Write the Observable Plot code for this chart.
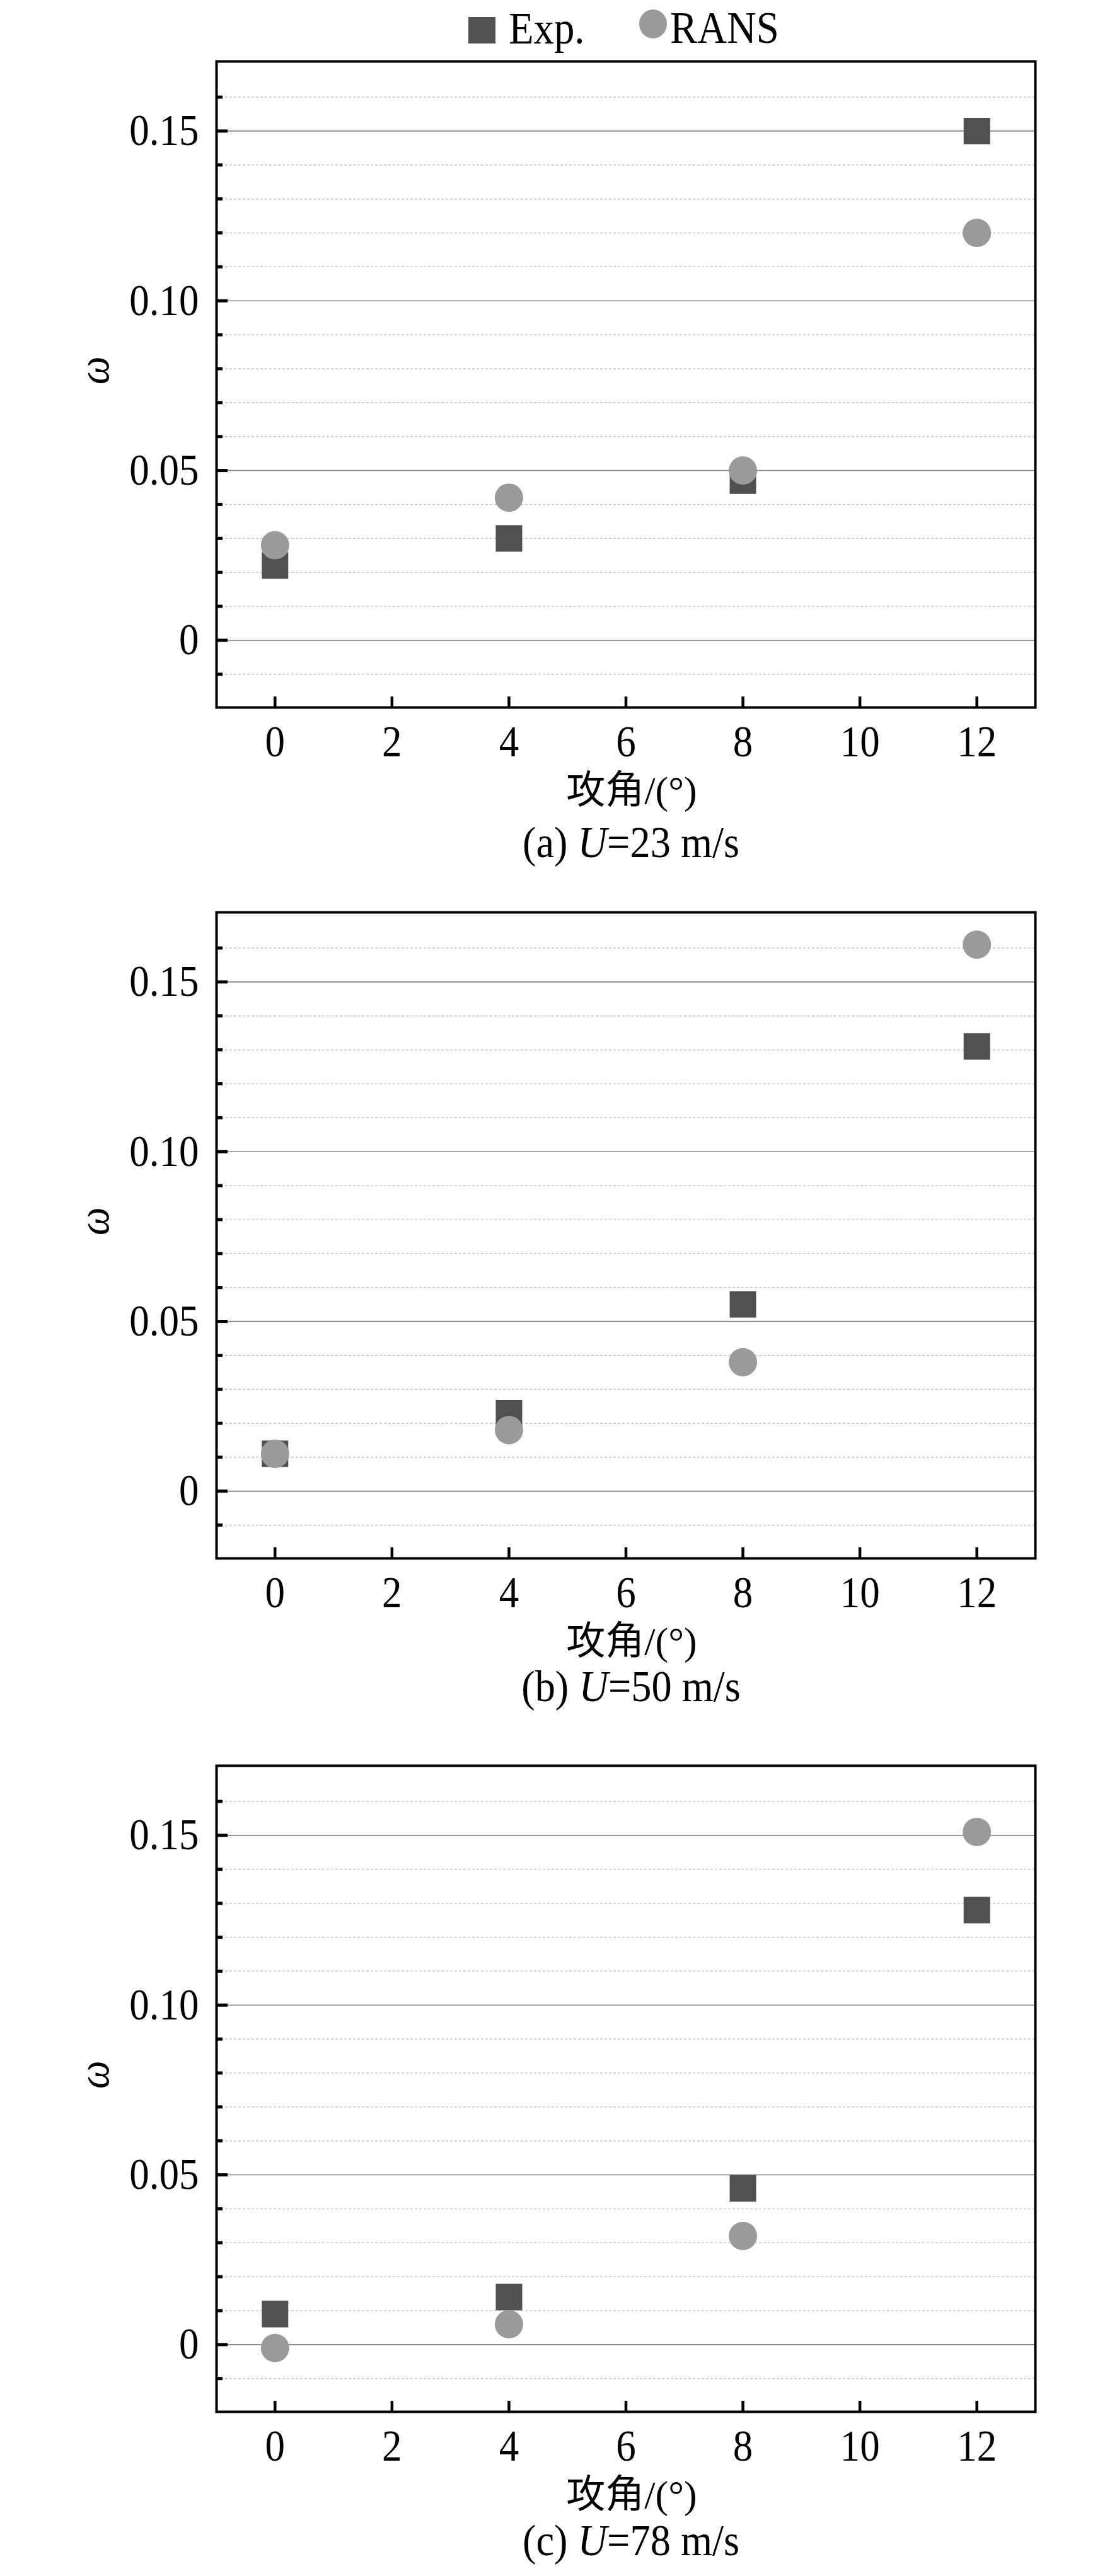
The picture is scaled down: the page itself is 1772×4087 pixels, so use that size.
<!DOCTYPE html>
<html>
<head>
<meta charset="utf-8">
<script src="https://cdn.jsdelivr.net/npm/d3@7"></script>
<script src="https://cdn.jsdelivr.net/npm/@observablehq/plot@0.6"></script>
<style>
  html, body { margin: 0; padding: 0; background: #fff; }
  #page { position: relative; width: 1772px; height: 4087px; background: #fff; overflow: hidden; }
  .panel { position: absolute; left: 0; }
  .panel svg { display: block; overflow: visible; }
  .caption { position: absolute; width: 1000px; text-align: center; font-family: "Liberation Serif", "Times New Roman", serif; font-size: 70px; line-height: 70px; color: #000; white-space: nowrap; transform: scaleX(0.92); transform-origin: 50% 50%; }
  .caption i { font-style: italic; }
</style>
</head>
<body>
<div id="page"></div>
<script>
// ---------- data ----------
const angles = [0, 4, 8, 12];
const expA  = [0.022, 0.030, 0.047, 0.150];
const ransA = [0.028, 0.042, 0.050, 0.120];
const expB  = [0.011, 0.023, 0.055, 0.131];
const ransB = [0.011, 0.018, 0.038, 0.161];
const expC  = [0.009, 0.014, 0.046, 0.128];
const ransC = [-0.001, 0.006, 0.032, 0.151];

const seriesNames = ["Exp.", "RANS"];
const captions = [["(a) ", "U", "=23 m/s"], ["(b) ", "U", "=50 m/s"], ["(c) ", "U", "=78 m/s"]];
const xLabel = "攻角/(°)";
const yLabel = "ω";

const xTicks = [0, 2, 4, 6, 8, 10, 12];
const yMajor = [0, 0.05, 0.10, 0.15];
const yMajorLabels = ["0", "0.05", "0.10", "0.15"];
const yMinor = [-0.01, 0.01, 0.02, 0.03, 0.04, 0.06, 0.07, 0.08, 0.09, 0.11, 0.12, 0.13, 0.14, 0.16];
const xDomain = [-1, 13];
const yDomain = [-0.0198, 0.1705];

// ---------- layout ----------
const W = 1772, ML = 343, MR = 130, MT = 20, PH = 1025, MB = 175;
const PW = W - ML - MR;
const frameTops = [97, 1447, 2801];
const captionTops = [1302, 2641, 3996];
const EXP_COLOR = "#505050", RANS_COLOR = "#9a9a9a";
const SERIF = "Liberation Serif, Times New Roman, serif";
const SX = 0.9; // horizontal condensing of the Latin text, as in the reference

function condense(svg, skip) {
  svg.querySelectorAll("text").forEach(t => {
    if (skip && t.textContent === skip) return;
    const tr = t.getAttribute("transform") || "";
    const x = +(t.getAttribute("x") || 0);
    t.setAttribute("transform", `${tr} translate(${x},0) scale(${SX},1) translate(${-x},0)`);
  });
}

const page = document.getElementById("page");

// legend (above first panel)
const NS = "http://www.w3.org/2000/svg";
const leg = document.createElementNS(NS, "svg");
leg.setAttribute("width", W); leg.setAttribute("height", 90);
leg.style.position = "absolute"; leg.style.left = "0px"; leg.style.top = "0px";
leg.innerHTML =
  `<rect x="743" y="27" width="43" height="42" fill="${EXP_COLOR}"/>` +
  `<text x="807" y="69" font-family="${SERIF}" font-size="72">${seriesNames[0]}</text>` +
  `<ellipse cx="1036" cy="38" rx="22" ry="23" fill="${RANS_COLOR}"/>` +
  `<text x="1063" y="68" font-family="${SERIF}" font-size="72">${seriesNames[1]}</text>`;
condense(leg);
page.appendChild(leg);

const panels = [[expA, ransA], [expB, ransB], [expC, ransC]];

panels.forEach(([expV, ransV], i) => {
  const expData = angles.map((a, k) => ({x: a, y: expV[k]}));
  const ransData = angles.map((a, k) => ({x: a, y: ransV[k]}));
  const chart = Plot.plot({
    width: W,
    height: MT + PH + MB,
    marginLeft: ML, marginRight: MR, marginTop: MT, marginBottom: MB,
    x: {domain: xDomain},
    y: {domain: yDomain},
    style: {fontFamily: SERIF, background: "transparent", overflow: "visible"},
    marks: [
      Plot.ruleY(yMinor, {stroke: "#c6c6c6", strokeWidth: 1.5, strokeDasharray: "4,3"}),
      Plot.ruleY(yMajor, {stroke: "#858585", strokeWidth: 1.6}),
      Plot.dot(expData, {x: "x", y: "y", symbol: "square", r: 23.7, fill: EXP_COLOR}),
      Plot.dot(ransData, {x: "x", y: "y", symbol: "circle", r: 22.5, fill: RANS_COLOR}),
      // inward tick marks
      Plot.ruleX(xTicks, {stroke: "black", strokeWidth: 4.5, insetTop: PH - 17}),
      Plot.ruleY(yMajor, {stroke: "black", strokeWidth: 5, insetRight: PW - 18}),
      Plot.ruleY(yMinor, {stroke: "black", strokeWidth: 5, insetRight: PW - 10}),
      Plot.frame({stroke: "black", strokeWidth: 4}),
      Plot.axisX(xTicks, {tickSize: 0, tickPadding: 28, fontSize: 70, fontFamily: SERIF, fill: "black", label: null}),
      Plot.axisY(yMajor, {tickSize: 0, tickPadding: 28, fontSize: 70, fontFamily: SERIF, fill: "black", label: null,
        tickFormat: d => yMajorLabels[yMajor.indexOf(d)]}),
      Plot.text([yLabel], {frameAnchor: "left", dx: -194, rotate: -90, lineAnchor: "middle", fontSize: 70, fontStyle: "italic", fontFamily: SERIF, fill: "black"}),
      Plot.text([xLabel], {frameAnchor: "bottom", lineAnchor: "middle", dx: 9, dy: 133, fontSize: 62, fontFamily: "Liberation Serif, Noto Sans CJK SC, serif", fill: "black"})
    ]
  });
  condense(chart, xLabel);
  const wrap = document.createElement("div");
  wrap.className = "panel";
  wrap.style.top = (frameTops[i] - MT) + "px";
  wrap.appendChild(chart);
  page.appendChild(wrap);

  const cap = document.createElement("div");
  cap.className = "caption";
  cap.style.left = (1001 - 500) + "px";
  cap.style.top = captionTops[i] + "px";
  const [a, u, b] = captions[i];
  cap.append(document.createTextNode(a));
  const it = document.createElement("i"); it.textContent = u; cap.append(it);
  cap.append(document.createTextNode(b));
  page.appendChild(cap);
});
</script>
</body>
</html>
